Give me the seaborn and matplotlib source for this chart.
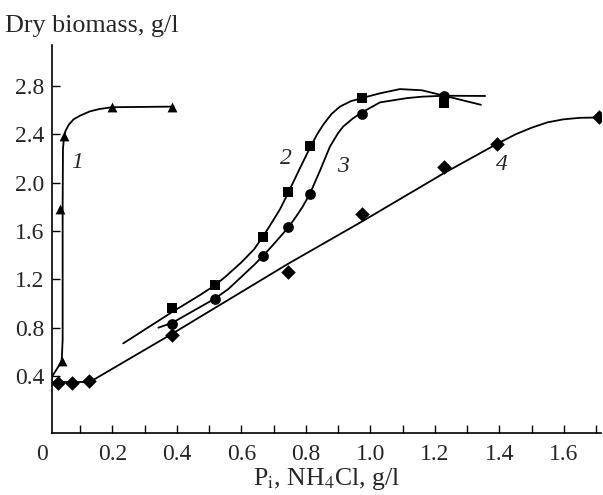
import matplotlib as mpl
mpl.use('agg')
import matplotlib.pyplot as plt
import pandas as pd
import seaborn as sns

# measured points (x: Pi / NH4Cl g/l, y: dry biomass g/l)
x1 = [0.007, 0.043, 0.038, 0.050, 0.200, 0.386]
y1 = [0.37, 0.52, 1.78, 2.39, 2.63, 2.63]
x2 = [0.386, 0.518, 0.666, 0.746, 0.813, 0.973, 1.229]
y2 = [0.96, 1.15, 1.55, 1.92, 2.30, 2.70, 2.66]
x3 = [0.386, 0.518, 0.666, 0.746, 0.813, 0.973, 1.229]
y3 = [0.83, 1.04, 1.39, 1.63, 1.91, 2.57, 2.72]
x4 = [0.033, 0.074, 0.128, 0.386, 0.746, 0.975, 1.229, 1.392, 1.710]
y4 = [0.34, 0.34, 0.36, 0.74, 1.26, 1.74, 2.13, 2.32, 2.54]

# fitted curves as drawn in the figure
c1x = [0.007, 0.043, 0.046, 0.046, 0.047, 0.050, 0.055, 0.065, 0.080, 0.100, 0.130, 0.160, 0.200, 0.390]
c1y = [0.37, 0.52, 0.70, 1.80, 2.28, 2.37, 2.43, 2.48, 2.525, 2.555, 2.59, 2.61, 2.625, 2.63]
c2x = [0.234, 0.386, 0.472, 0.518, 0.550, 0.600, 0.640, 0.666, 0.690, 0.720, 0.746, 0.780, 0.813,
       0.835, 0.854, 0.880, 0.906, 0.940, 0.973, 1.030, 1.092, 1.160, 1.229, 1.290, 1.343]
c2y = [0.67, 0.93, 1.07, 1.15, 1.22, 1.34, 1.45, 1.55, 1.65, 1.78, 1.92, 2.11, 2.29,
       2.40, 2.48, 2.57, 2.63, 2.675, 2.70, 2.74, 2.775, 2.765, 2.72, 2.68, 2.645]
c3x = [0.343, 0.386, 0.518, 0.560, 0.600, 0.640, 0.666, 0.700, 0.746, 0.770, 0.790, 0.813,
       0.844, 0.875, 0.900, 0.916, 0.945, 0.973, 1.030, 1.113, 1.160, 1.229, 1.356]
c3y = [0.80, 0.84, 1.04, 1.12, 1.22, 1.32, 1.39, 1.49, 1.63, 1.72, 1.80, 1.91,
       2.10, 2.30, 2.41, 2.465, 2.53, 2.58, 2.665, 2.70, 2.712, 2.72, 2.718]
c4x = [0.033, 0.130, 0.386, 0.746, 0.975, 1.229, 1.392, 1.450, 1.500, 1.550, 1.600, 1.650, 1.710]
c4y = [0.35, 0.35, 0.75, 1.33, 1.68, 2.08, 2.32, 2.40, 2.455, 2.50, 2.525, 2.537, 2.54]

labels = ['1', '2', '3', '4']
label_x = [0.092, 0.739, 0.916, 1.407]
label_y = [2.17, 2.20, 2.13, 2.15]

sns.set_style('ticks')
plt.rcParams['font.family'] = ['Liberation Serif', 'DejaVu Serif']
plt.rcParams['mathtext.fontset'] = 'stix'

fig = plt.figure(figsize=(6.03, 4.95), dpi=100)
ax = fig.add_axes([0.0857, 0.1253, 0.9108, 0.7838])

curves = [(c1x, c1y), (c2x, c2y), (c3x, c3y), (c4x, c4y)]
for cx, cy in curves:
    df = pd.DataFrame({'x': cx, 'y': cy})
    sns.lineplot(data=df, x='x', y='y', sort=False, estimator=None, color='black', linewidth=1.3, ax=ax)

points = [(x1, y1, '^', 50), (x2, y2, 's', 55), (x3, y3, 'o', 60), (x4, y4, 'D', 55)]
for px, py, m, s in points:
    df = pd.DataFrame({'x': px, 'y': py})
    sns.scatterplot(data=df, x='x', y='y', marker=m, s=s, color='black', linewidth=0, ax=ax, zorder=3)

for t, lx, ly in zip(labels, label_x, label_y):
    ax.text(lx, ly, t, fontsize=17, style='italic', ha='center', va='center')

ax.set_xlim(0.012, 1.715)
ax.set_ylim(-0.072, 3.14)
ax.set_xticks([0.2, 0.4, 0.6, 0.8, 1.0, 1.2, 1.4, 1.6])
ax.set_xticks([0.1, 0.3, 0.5, 0.7, 0.9, 1.1, 1.3, 1.5, 1.7], minor=True)
ax.set_yticks([0.4, 0.8, 1.2, 1.6, 2.0, 2.4, 2.8])
ax.set_xticklabels(['0.2', '0.4', '0.6', '0.8', '1.0', '1.2', '1.4', '1.6'])
ax.set_yticklabels(['0.4', '0.8', '1.2', '1.6', '2.0', '2.4', '2.8'])
ax.tick_params(axis='both', which='both', direction='in', length=6, width=1, labelsize=17, color='black')
ax.tick_params(axis='x', pad=8)
ax.tick_params(axis='y', pad=5)
ax.text(0, -0.16, '0', fontsize=17, ha='right', va='top', transform=ax.transData)

sns.despine(ax=ax)
for sp in ['left', 'bottom']:
    ax.spines[sp].set_linewidth(1.2)
    ax.spines[sp].set_color('black')

ax.set_xlabel(r'P$_{\rm i}$, NH$_{\rm 4}$Cl, g/l', fontsize=18.5, labelpad=1)
ax.set_ylabel('')
fig.text(0.008, 0.947, 'Dry biomass, g/l', fontsize=18.8, ha='left', va='center')

plt.savefig('out.png', dpi=100)
